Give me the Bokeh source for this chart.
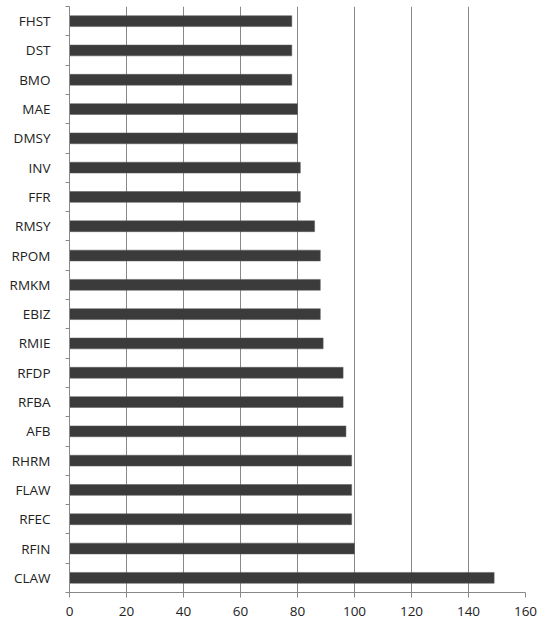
from bokeh.plotting import figure
from bokeh.models import FixedTicker, Range1d
from bokeh.embed import file_html
from bokeh.resources import INLINE

categories = ["CLAW", "RFIN", "RFEC", "FLAW", "RHRM", "AFB", "RFBA", "RFDP", "RMIE", "EBIZ",
              "RMKM", "RPOM", "RMSY", "FFR", "INV", "DMSY", "MAE", "BMO", "DST", "FHST"]
values = [149, 100, 99, 99, 99, 97, 96, 96, 89, 88,
          88, 88, 86, 81, 81, 80, 80, 78, 78, 78]
x_ticks = [0, 20, 40, 60, 80, 100, 120, 140, 160]

n = len(categories)
ypos = list(range(n))

p = figure(width=545, height=622, output_backend="svg", toolbar_location=None,
           x_range=Range1d(0, 160), y_range=Range1d(-0.5, n - 0.5),
           min_border_left=69, min_border_right=20, min_border_top=6, min_border_bottom=30)
p.outline_line_color = None
p.background_fill_color = "white"
p.border_fill_color = "white"

p.hbar(y=ypos, right=values, left=0, height=0.37, fill_color="#3b3b3b", line_color="#5a5a5a", line_width=0.5)

# x axis
p.xaxis.ticker = FixedTicker(ticks=x_ticks)
p.xaxis.axis_line_color = "#888888"
p.xaxis.major_tick_line_color = "#888888"
p.xaxis.major_tick_out = 5
p.xaxis.major_tick_in = 0
p.xaxis.minor_tick_line_color = None
p.xaxis.major_label_standoff = 9
p.xaxis.major_label_text_font = "Open Sans"
p.xaxis.major_label_text_font_size = "13.5px"
p.xaxis.major_label_text_color = "#222222"

# y axis: labels at centres, ticks between categories
p.yaxis.ticker = FixedTicker(ticks=ypos, minor_ticks=[i - 0.5 for i in range(n + 1)])
p.yaxis.major_label_overrides = {i: c for i, c in enumerate(categories)}
p.yaxis.axis_line_color = "#888888"
p.yaxis.major_tick_line_color = None
p.yaxis.major_tick_out = 0
p.yaxis.major_tick_in = 0
p.yaxis.minor_tick_line_color = "#888888"
p.yaxis.minor_tick_out = 4
p.yaxis.minor_tick_in = 0
p.yaxis.major_label_standoff = 15
p.yaxis.major_label_text_font = "Open Sans"
p.yaxis.major_label_text_font_size = "13.5px"
p.yaxis.major_label_text_color = "#222222"

p.xgrid.ticker = FixedTicker(ticks=x_ticks)
p.xgrid.grid_line_color = "#888888"
p.xgrid.grid_line_width = 1
p.ygrid.grid_line_color = None

open("out.html", "w").write(file_html(p, INLINE))
